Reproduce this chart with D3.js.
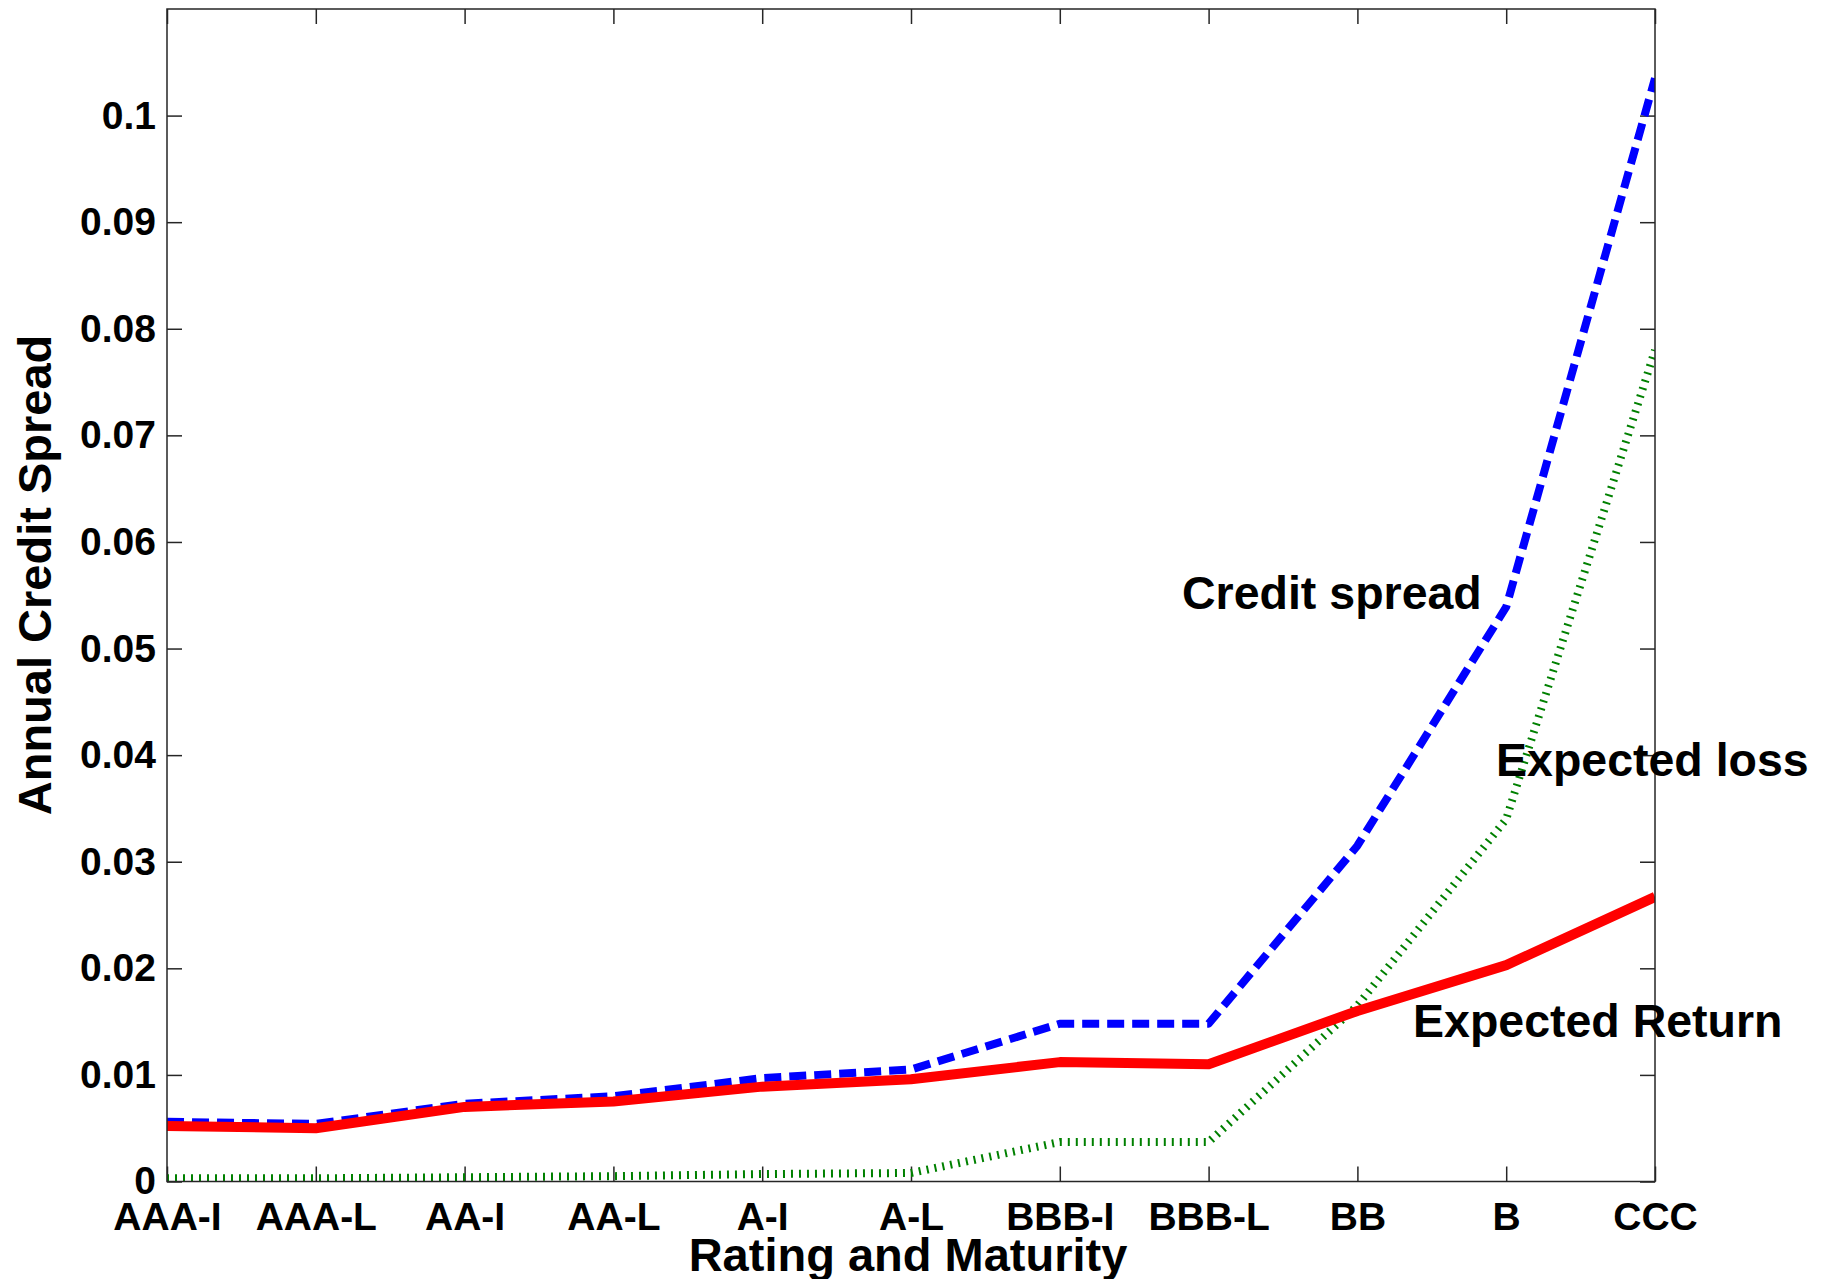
<!DOCTYPE html>
<html>
<head>
<meta charset="utf-8">
<script src="https://cdn.jsdelivr.net/npm/d3@7"></script>
<style>
  html, body { margin: 0; padding: 0; background: #fff; }
  svg { display: block; }
  text { font-family: "Liberation Sans", Arial, Helvetica, sans-serif; font-weight: bold; fill: #000; }
</style>
</head>
<body>
<svg id="chart" width="1828" height="1279"></svg>
<script>
const categories = ["AAA-I","AAA-L","AA-I","AA-L","A-I","A-L","BBB-I","BBB-L","BB","B","CCC"];
const creditSpread   = [0.0056, 0.0054, 0.0073, 0.0080, 0.0097, 0.0105, 0.0148, 0.0148, 0.0315, 0.0539, 0.1035];
const expectedLoss   = [0.0003, 0.0003, 0.0004, 0.0005, 0.0007, 0.0008, 0.0037, 0.0037, 0.0165, 0.0340, 0.0780];
const expectedReturn = [0.0052, 0.0050, 0.0070, 0.0075, 0.0089, 0.0096, 0.0112, 0.0110, 0.0160, 0.0203, 0.0267];
const yTicks = [0, 0.01, 0.02, 0.03, 0.04, 0.05, 0.06, 0.07, 0.08, 0.09, 0.1];
const yTickLabels = ["0","0.01","0.02","0.03","0.04","0.05","0.06","0.07","0.08","0.09","0.1"];
const yLabel = "Annual Credit Spread";
const xLabel = "Rating and Maturity";
const annotations = [
  { text: "Credit spread",   val: 0.0537 },
  { text: "Expected loss",   val: 0.0380 },
  { text: "Expected Return", val: 0.0136 }
];

const svg = d3.select("#chart");
const L = 167, R = 1655, T = 9, B = 1181.5;
const x = d3.scalePoint().domain(categories).range([L, R]).padding(0);
const y = d3.scaleLinear().domain([0, 0.11]).range([B, T]);

svg.append("rect").attr("width", 1828).attr("height", 1279).attr("fill", "#fff");

svg.append("defs").append("clipPath").attr("id", "plotclip")
  .append("rect").attr("x", L).attr("y", T).attr("width", R - L).attr("height", B - T);

const frameColor = "#262626";
const tickLen = 15;
const tickFont = 39;

const xAxisB = d3.axisBottom(x).tickSizeInner(-tickLen).tickSizeOuter(0).tickPadding(21);
const gxb = svg.append("g").attr("transform", `translate(0,${B})`).call(xAxisB);
gxb.select(".domain").remove();
gxb.selectAll(".tick line").attr("stroke", frameColor).attr("stroke-width", 1.5);
gxb.selectAll(".tick text").attr("font-size", tickFont).attr("dy", "0.71em").attr("fill", "#000")
  .style("font-family", "'Liberation Sans', Arial, sans-serif").style("font-weight", "bold");

const xAxisT = d3.axisTop(x).tickSizeInner(-tickLen).tickSizeOuter(0).tickFormat("");
const gxt = svg.append("g").attr("transform", `translate(0,${T})`).call(xAxisT);
gxt.select(".domain").remove();
gxt.selectAll(".tick line").attr("stroke", frameColor).attr("stroke-width", 1.5);

const yAxisL = d3.axisLeft(y).tickValues(yTicks).tickFormat((d, i) => yTickLabels[i])
  .tickSizeInner(-tickLen).tickSizeOuter(0).tickPadding(11);
const gyl = svg.append("g").attr("transform", `translate(${L},0)`).call(yAxisL);
gyl.select(".domain").remove();
gyl.selectAll(".tick line").attr("stroke", frameColor).attr("stroke-width", 1.5);
gyl.selectAll(".tick text").attr("font-size", tickFont).attr("fill", "#000")
  .style("font-family", "'Liberation Sans', Arial, sans-serif").style("font-weight", "bold");

const yAxisR = d3.axisRight(y).tickValues(yTicks).tickFormat("")
  .tickSizeInner(-tickLen).tickSizeOuter(0);
const gyr = svg.append("g").attr("transform", `translate(${R},0)`).call(yAxisR);
gyr.select(".domain").remove();
gyr.selectAll(".tick line").attr("stroke", frameColor).attr("stroke-width", 1.5);

const line = d3.line().x((d, i) => x(categories[i])).y(d => y(d));
const plot = svg.append("g").attr("clip-path", "url(#plotclip)");

plot.append("path").datum(creditSpread).attr("d", line)
  .attr("fill", "none").attr("stroke", "#0000ff").attr("stroke-width", 8)
  .attr("stroke-dasharray", "17,8").attr("stroke-linejoin", "round");

plot.append("path").datum(expectedLoss).attr("d", line)
  .attr("fill", "none").attr("stroke", "#008000").attr("stroke-width", 8)
  .attr("stroke-dasharray", "2,6").attr("stroke-linecap", "butt");

plot.append("path").datum(expectedReturn).attr("d", line)
  .attr("fill", "none").attr("stroke", "#ff0000").attr("stroke-width", 10)
  .attr("stroke-linejoin", "round");

svg.append("rect").attr("x", L).attr("y", T).attr("width", R - L).attr("height", B - T)
  .attr("fill", "none").attr("stroke", frameColor).attr("stroke-width", 1.5);

const annX = { "Credit spread": 1182, "Expected loss": 1496, "Expected Return": 1413 };
svg.append("g").selectAll("text").data(annotations).join("text")
  .attr("x", d => annX[d.text])
  .attr("y", d => y(d.val))
  .attr("font-size", 46.5)
  .text(d => d.text);

svg.append("text")
  .attr("transform", "translate(51,575) rotate(-90)")
  .attr("text-anchor", "middle").attr("font-size", 47)
  .text(yLabel);

svg.append("text")
  .attr("x", 908).attr("y", 1271)
  .attr("text-anchor", "middle").attr("font-size", 47)
  .text(xLabel);
</script>
</body>
</html>
